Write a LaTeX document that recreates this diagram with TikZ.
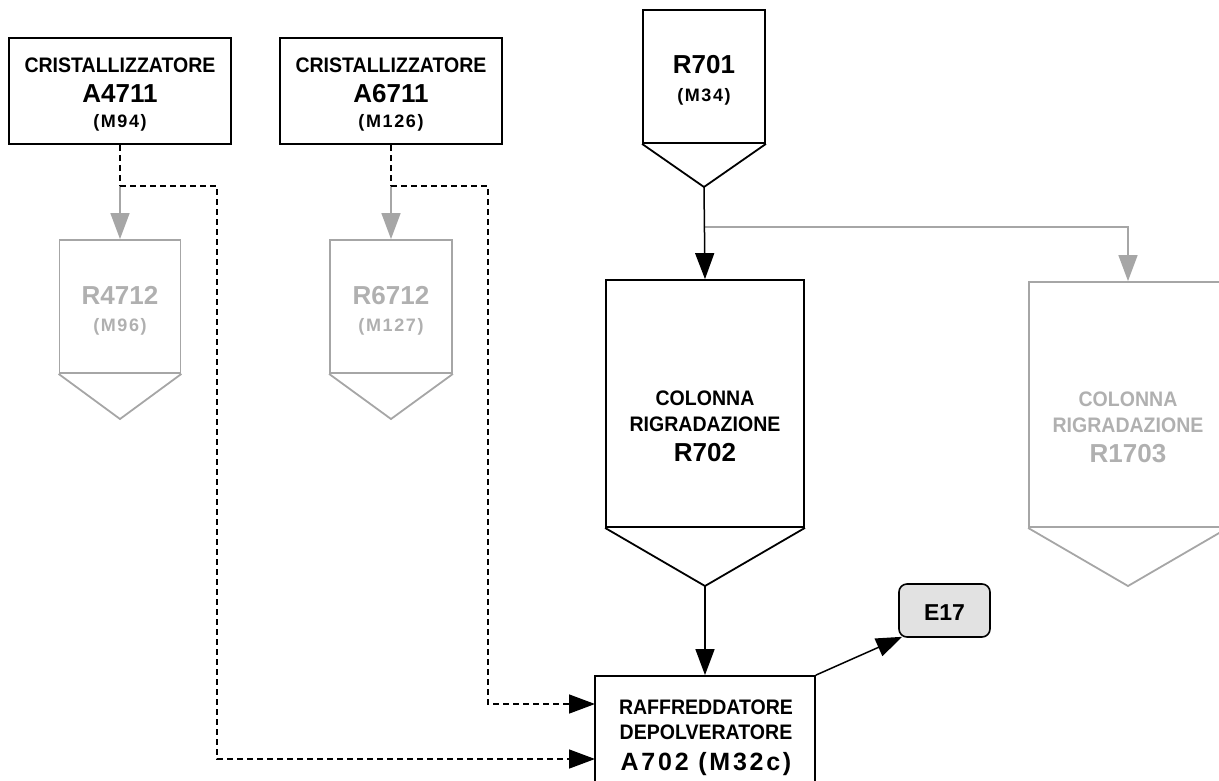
\documentclass[tikz,border=0pt]{standalone}
\usepackage{fontspec}
\setmainfont{Liberation Sans}
\newfontfamily\spc[LetterSpace=9.0]{Liberation Sans}
\newfontfamily\spcb[LetterSpace=11.0]{Liberation Sans}
\newfontfamily\cond[FakeStretch=0.93]{Liberation Sans}
\usetikzlibrary{arrows.meta,calc}
\definecolor{lgray}{RGB}{166,166,166}
\definecolor{tgray}{RGB}{176,176,176}
\definecolor{efill}{RGB}{226,226,226}
\begin{document}
\begin{tikzpicture}[x=1pt,y=-1pt,
  blk/.style={draw=black,line width=1.8pt,inner sep=0pt},
  gry/.style={draw=lgray,line width=1.8pt,inner sep=0pt},
  word/.style={font=\cond\bfseries\fontsize{21}{23}\selectfont,anchor=base,inner sep=0pt},
  small/.style={font=\spc\bfseries\fontsize{18}{20}\selectfont,anchor=base,inner sep=0pt},
  big/.style={font=\bfseries\fontsize{26}{28}\selectfont,anchor=base,inner sep=0pt},
  mid/.style={font=\spcb\bfseries\fontsize{25}{27}\selectfont,anchor=base,inner sep=0pt},
  flow/.style={line width=1.5pt,-{Triangle[length=26pt,width=19pt]}},
  gflow/.style={flow,draw=lgray},
  dsh/.style={line width=1.5pt,dash pattern=on 6pt off 4pt}]
\useasboundingbox (0,0) rectangle (1219,780);

% crystallizer boxes
\node[blk,minimum width=222pt,minimum height=106pt] (a4711) at (120,91) {};
\node[word]  (a4711t1) at (120,72) {CRISTALLIZZATORE};
\node[big]   (a4711t2) at (120,102.7) {A4711};
\node[small] (a4711t3) at (120,127.7) {(M94)};

\node[blk,minimum width=222pt,minimum height=106pt] (a6711) at (391,91) {};
\node[word]  (a6711t1) at (391,72) {CRISTALLIZZATORE};
\node[big]   (a6711t2) at (391,102.7) {A6711};
\node[small] (a6711t3) at (391,127.7) {(M126)};

% gray hoppers
\node[gry,minimum width=121pt,minimum height=133pt] (r4712) at (120,306.5) {};
\coordinate (r4712tip) at (120,419);
\draw[gry] (r4712.south west) -- (r4712tip) -- (r4712.south east);
\node[big,text=tgray]   (r4712t1) at (120,304) {R4712};
\node[small,text=tgray] (r4712t2) at (120,331.7) {(M96)};

\node[gry,minimum width=122pt,minimum height=133pt] (r6712) at (391,306.5) {};
\coordinate (r6712tip) at (391,419);
\draw[gry] (r6712.south west) -- (r6712tip) -- (r6712.south east);
\node[big,text=tgray]   (r6712t1) at (391,304) {R6712};
\node[small,text=tgray] (r6712t2) at (391,331.7) {(M127)};

% R701
\node[blk,minimum width=122pt,minimum height=133pt] (r701) at (704,76.5) {};
\coordinate (r701tip) at (704,187);
\draw[blk] (r701.south west) -- (r701tip) -- (r701.south east);
\node[big]   (r701t1) at (704,73.3) {R701};
\node[small] (r701t2) at (704,101.7) {(M34)};

% R702
\node[blk,minimum width=198pt,minimum height=247pt] (r702) at (705,403.5) {};
\coordinate (r702tip) at (705,586);
\draw[blk] (r702.south west) -- (r702tip) -- (r702.south east);
\node[word] (r702t1) at (705,405.5) {COLONNA};
\node[word] (r702t2) at (705,431.5) {RIGRADAZIONE};
\node[big]  (r702t3) at (705,461) {R702};

% R1703
\node[gry,minimum width=198pt,minimum height=245pt] (r1703) at (1128,404.5) {};
\coordinate (r1703tip) at (1128,586);
\draw[gry] (r1703.south west) -- (r1703tip) -- (r1703.south east);
\node[word,text=tgray] (r1703t1) at (1128,406.5) {COLONNA};
\node[word,text=tgray] (r1703t2) at (1128,432.5) {RIGRADAZIONE};
\node[big,text=tgray]  (r1703t3) at (1128,462.7) {R1703};

% A702
\node[blk,minimum width=220pt,minimum height=124pt] (a702) at (705,738) {};
\node[word] (a702t1) at (706,714) {RAFFREDDATORE};
\node[word] (a702t2) at (706,739.5) {DEPOLVERATORE};
\node[mid]  (a702t3) at (706,770) {A702 (M32c)};

% E17
\node[draw=black,line width=1.6pt,fill=efill,rounded corners=8pt,minimum width=91pt,minimum height=53pt,inner sep=0pt] (e17) at (944.5,610.5) {};
\node[font=\bfseries\fontsize{23}{25}\selectfont,anchor=base,inner sep=0pt] (e17t) at (944.5,620) {E17};

% connectors
\coordinate (j1) at (120,186);
\coordinate (j1r) at (217,186);
\coordinate (j1d) at (217,759);
\coordinate (a702in2) at (595,759);
\draw[dsh] (a4711.south) -- (j1);
\draw[gflow] (j1) -- (r4712.north);
\draw[dsh,flow] (j1) -- (j1r) -- (j1d) -- (a702in2);

\coordinate (j2) at (391,186);
\coordinate (j2r) at (488,186);
\coordinate (j2d) at (488,704);
\coordinate (a702in1) at (595,704);
\draw[dsh] (a6711.south) -- (j2);
\draw[gflow] (j2) -- (r6712.north);
\draw[dsh,flow] (j2) -- (j2r) -- (j2d) -- (a702in1);

\coordinate (j3) at (704,227);
\coordinate (j3r) at (1128,227);
\draw[gflow] (j3) -- (j3r) -- (r1703.north);
\draw[flow] (r701tip) -- (r702.north);
\draw[flow] (r702tip) -- (a702.north);
\draw[flow] (a702.north east) -- ($(e17.south west)+(4,-1)$);
\end{tikzpicture}
\end{document}
